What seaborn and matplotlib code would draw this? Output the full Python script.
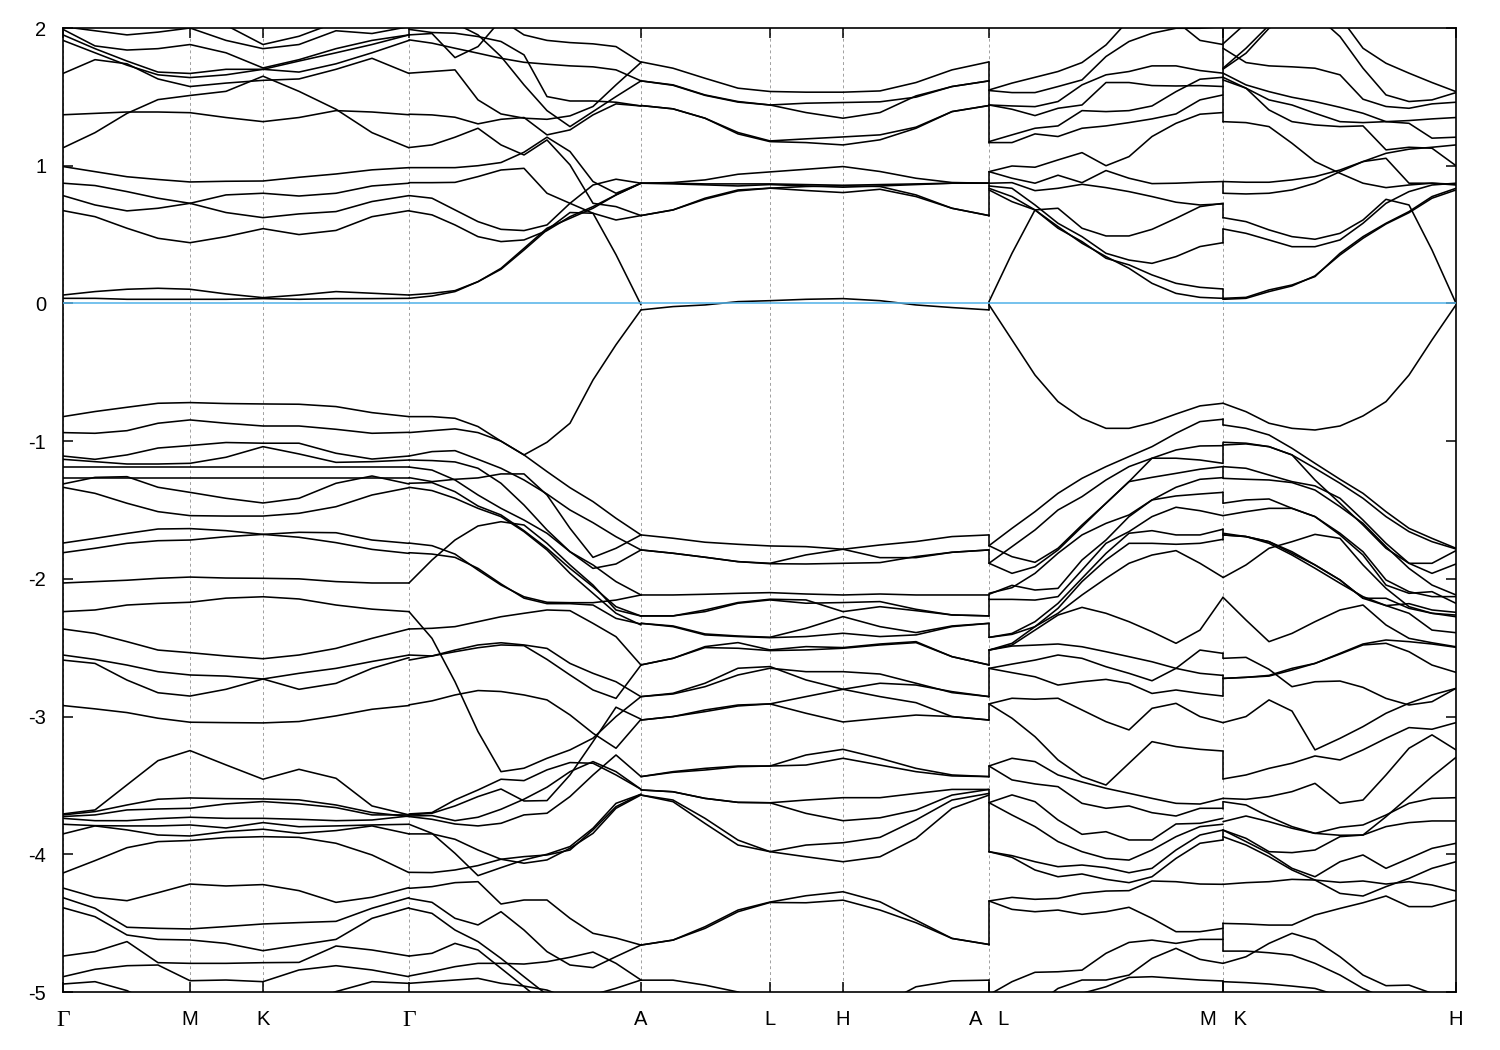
import matplotlib
matplotlib.use("Agg")
import matplotlib.pyplot as plt
import pandas as pd
import seaborn as sns

# k-path sample positions of each section
gamma_m_k_gamma_k = [0, 32, 64, 95, 127, 163, 200, 236, 273, 309, 346]
gamma_a_k = [346, 369, 392, 415, 438, 461, 484, 507, 530, 553, 578]
a_l_h_a_k = [578, 610, 642, 675, 707, 743, 780, 817, 853, 889, 926]
l_m_k = [926, 949, 972, 995, 1019, 1043, 1066, 1089, 1113, 1137, 1160]
k_h_k = [1160, 1183, 1206, 1229, 1252, 1277, 1300, 1323, 1346, 1369, 1393]

tick_k = [0, 127, 200, 346, 578, 707, 780, 926, 1160, 1393]
tick_names = ["Γ", "M", "K", "Γ", "A", "L", "H", "A   L", "M   K", "H"]
energy_ticks = [2, 1, 0, -1, -2, -3, -4, -5]
fermi_level = [0]

gamma_m_k_gamma_e = [
 [2.01,1.98,1.95,1.97,2.0,1.91,1.85,1.88,1.98,1.96,2.01],
 [2.04,2.04,2.04,2.04,2.04,2.02,1.88,1.94,2.04,2.04,2.05],
 [1.99,1.87,1.84,1.85,1.88,1.82,1.71,1.77,1.85,1.91,1.95],
 [1.95,1.85,1.76,1.68,1.67,1.70,1.70,1.76,1.82,1.88,1.95],
 [1.91,1.82,1.73,1.66,1.64,1.66,1.70,1.68,1.74,1.82,1.91],
 [1.67,1.77,1.74,1.63,1.575,1.60,1.62,1.63,1.70,1.78,1.67],
 [1.13,1.24,1.38,1.48,1.51,1.54,1.65,1.54,1.41,1.24,1.13],
 [1.37,1.38,1.39,1.39,1.385,1.35,1.32,1.35,1.40,1.39,1.37],
 [.994,.957,.92,.90,.882,.887,.889,.916,.94,.97,.986],
 [.873,.856,.812,.764,.727,.66,.623,.65,.667,.74,.783],
 [.783,.715,.672,.691,.727,.788,.80,.78,.80,.853,.873],
 [.674,.63,.546,.473,.441,.485,.543,.50,.53,.63,.674],
 [.061,.086,.103,.11,.103,.069,.042,.061,.086,.074,.061],
 [.037,.037,.03,.03,.03,.03,.035,.03,.035,.035,.037],
 [-.822,-.785,-.754,-.725,-.72,-.727,-.73,-.732,-.749,-.793,-.822],
 [-.938,-.943,-.924,-.87,-.846,-.87,-.89,-.89,-.914,-.943,-.936],
 [-1.108,-1.132,-1.10,-1.05,-1.032,-1.01,-1.015,-1.015,-1.088,-1.13,-1.108],
 [-1.132,-1.149,-1.166,-1.166,-1.161,-1.117,-1.04,-1.093,-1.154,-1.149,-1.137],
 [-1.188,-1.188,-1.188,-1.188,-1.188,-1.188,-1.188,-1.188,-1.188,-1.188,-1.188],
 [-1.265,-1.265,-1.265,-1.265,-1.265,-1.265,-1.265,-1.265,-1.265,-1.265,-1.265],
 [-1.311,-1.263,-1.258,-1.335,-1.372,-1.415,-1.449,-1.415,-1.306,-1.253,-1.311],
 [-1.335,-1.379,-1.451,-1.512,-1.541,-1.544,-1.544,-1.524,-1.476,-1.391,-1.338],
 [-1.74,-1.706,-1.67,-1.638,-1.635,-1.65,-1.677,-1.662,-1.665,-1.718,-1.742],
 [-1.81,-1.778,-1.742,-1.723,-1.718,-1.694,-1.677,-1.698,-1.737,-1.786,-1.815],
 [-2.03,-2.02,-2.01,-1.996,-1.987,-1.994,-1.996,-2.0,-2.02,-2.03,-2.03],
 [-2.238,-2.226,-2.19,-2.178,-2.17,-2.14,-2.13,-2.146,-2.19,-2.22,-2.238],
 [-2.364,-2.396,-2.456,-2.517,-2.536,-2.56,-2.58,-2.553,-2.505,-2.432,-2.364],
 [-2.553,-2.585,-2.626,-2.674,-2.698,-2.706,-2.727,-2.686,-2.65,-2.6,-2.553],
 [-2.59,-2.614,-2.735,-2.827,-2.851,-2.802,-2.727,-2.802,-2.759,-2.65,-2.572],
 [-2.92,-2.944,-2.971,-3.012,-3.041,-3.044,-3.046,-3.036,-2.995,-2.947,-2.92],
 [-3.707,-3.678,-3.496,-3.32,-3.247,-3.351,-3.455,-3.383,-3.448,-3.649,-3.714],
 [-3.714,-3.69,-3.642,-3.6,-3.591,-3.596,-3.598,-3.605,-3.642,-3.697,-3.726],
 [-3.726,-3.714,-3.678,-3.671,-3.666,-3.634,-3.617,-3.634,-3.661,-3.714,-3.714],
 [-3.739,-3.756,-3.756,-3.741,-3.731,-3.739,-3.739,-3.746,-3.756,-3.751,-3.722],
 [-3.782,-3.792,-3.794,-3.794,-3.787,-3.809,-3.77,-3.8,-3.794,-3.787,-3.782],
 [-3.852,-3.794,-3.823,-3.86,-3.867,-3.835,-3.818,-3.848,-3.828,-3.794,-3.852],
 [-4.136,-4.046,-3.952,-3.908,-3.9,-3.879,-3.872,-3.877,-3.92,-4.005,-4.133],
 [-4.245,-4.312,-4.337,-4.279,-4.216,-4.23,-4.22,-4.264,-4.349,-4.312,-4.242],
 [-4.315,-4.392,-4.53,-4.538,-4.542,-4.525,-4.506,-4.496,-4.487,-4.392,-4.315],
 [-4.388,-4.453,-4.586,-4.618,-4.622,-4.647,-4.70,-4.659,-4.618,-4.465,-4.388],
 [-4.739,-4.707,-4.634,-4.787,-4.792,-4.792,-4.787,-4.785,-4.666,-4.695,-4.739],
 [-4.889,-4.835,-4.809,-4.804,-4.918,-4.913,-4.925,-4.84,-4.809,-4.84,-4.889],
 [-4.942,-4.925,-4.99,-5.1,-5.1,-5.1,-5.1,-5.1,-4.997,-4.925,-4.937],
]

gamma_a_e = [
 [1.95,1.96,1.785,1.865,2.06,1.95,1.91,1.894,1.885,1.865,1.75],
 [1.99,1.967,1.962,1.938,1.902,1.805,1.502,1.47,1.47,1.461,1.434],
 [1.914,1.89,1.853,1.817,1.78,1.751,1.737,1.725,1.718,1.696,1.616],
 [2.06,2.06,2.035,1.95,1.793,1.587,1.40,1.284,1.393,1.502,1.616],
 [1.672,1.684,1.696,1.478,1.376,1.345,1.337,1.362,1.43,1.587,1.75],
 [1.374,1.369,1.352,1.304,1.337,1.35,1.224,1.26,1.369,1.449,1.434],
 [1.132,1.151,1.207,1.272,1.151,1.078,1.187,1.006,.727,.703,.638],
 [.986,.986,.986,1.0,1.023,1.098,1.207,1.103,.885,.80,.873],
 [.877,.877,.879,.921,.969,.981,.80,.727,.655,.354,-.01],
 [.783,.764,.679,.594,.538,.529,.57,.727,.86,.902,.873],
 [.061,.073,.093,.158,.255,.40,.546,.618,.691,.788,.873],
 [.037,.054,.086,.158,.248,.388,.534,.66,.655,.606,.638],
 [.672,.643,.57,.485,.449,.461,.529,.63,.703,.788,.873],
 [-.822,-.822,-.834,-.894,-1.0,-1.10,-1.008,-.87,-.556,-.30,-.047],
 [-.938,-.924,-.911,-.938,-1.0,-1.10,-1.221,-1.338,-1.439,-1.56,-1.681],
 [-1.108,-1.076,-1.069,-1.132,-1.197,-1.282,-1.384,-1.50,-1.592,-1.694,-1.79],
 [-1.265,-1.294,-1.277,-1.267,-1.238,-1.238,-1.391,-1.633,-1.844,-1.778,-1.681],
 [-1.137,-1.141,-1.151,-1.197,-1.306,-1.464,-1.645,-1.803,-1.924,-1.892,-1.79],
 [-1.188,-1.21,-1.282,-1.391,-1.488,-1.573,-1.669,-1.803,-1.899,-2.02,-2.117],
 [-1.306,-1.301,-1.367,-1.471,-1.536,-1.65,-1.778,-1.924,-2.057,-2.202,-2.27],
 [-1.335,-1.359,-1.415,-1.488,-1.548,-1.657,-1.79,-1.96,-2.105,-2.25,-2.335],
 [-1.74,-1.759,-1.82,-1.936,-2.045,-2.13,-2.17,-2.173,-2.173,-2.154,-2.117],
 [-1.81,-1.82,-1.844,-1.924,-2.037,-2.14,-2.18,-2.18,-2.19,-2.287,-2.328],
 [-2.03,-1.863,-1.718,-1.616,-1.585,-1.609,-1.742,-1.899,-2.045,-2.226,-2.27],
 [-2.364,-2.359,-2.347,-2.311,-2.275,-2.25,-2.226,-2.231,-2.323,-2.42,-2.626],
 [-2.238,-2.432,-2.747,-3.109,-3.40,-3.375,-3.303,-3.242,-3.157,-3.0,-2.855],
 [-2.553,-2.56,-2.517,-2.48,-2.464,-2.48,-2.505,-2.614,-2.686,-2.747,-2.856],
 [-2.59,-2.56,-2.529,-2.5,-2.48,-2.485,-2.585,-2.698,-2.807,-2.868,-2.626],
 [-2.915,-2.886,-2.843,-2.811,-2.818,-2.843,-2.879,-2.988,-3.121,-3.23,-3.02],
 [-3.707,-3.697,-3.605,-3.533,-3.455,-3.465,-3.387,-3.334,-3.339,-3.424,-3.528],
 [-3.714,-3.702,-3.649,-3.581,-3.526,-3.613,-3.61,-3.424,-3.182,-2.932,-3.019],
 [-3.722,-3.719,-3.756,-3.731,-3.673,-3.6,-3.513,-3.4,-3.327,-3.4,-3.528],
 [-3.726,-3.746,-3.78,-3.794,-3.775,-3.714,-3.702,-3.581,-3.424,-3.279,-3.436],
 [-3.782,-3.848,-3.993,-4.155,-4.097,-4.041,-4.0,-3.944,-3.811,-3.63,-3.564],
 [-3.852,-3.852,-3.891,-3.969,-4.036,-4.065,-4.041,-3.956,-3.848,-3.666,-3.569],
 [-4.131,-4.133,-4.114,-4.082,-4.036,-4.017,-4.005,-3.969,-3.823,-3.654,-3.564],
 [-4.247,-4.235,-4.206,-4.199,-4.361,-4.332,-4.332,-4.465,-4.574,-4.608,-4.659],
 [-4.32,-4.349,-4.465,-4.513,-4.417,-4.55,-4.707,-4.804,-4.823,-4.743,-4.659],
 [-4.392,-4.429,-4.55,-4.634,-4.756,-4.889,-5.02,-5.1,-5.1,-5.1,-5.1],
 [-4.739,-4.719,-4.647,-4.695,-4.828,-4.961,-5.1,-5.1,-5.1,-5.1,-5.1],
 [-4.884,-4.852,-4.816,-4.792,-4.792,-4.797,-4.78,-4.748,-4.71,-4.792,-4.913],
 [-4.937,-4.925,-4.913,-4.901,-4.937,-4.957,-4.986,-5.05,-5.1,-5.1,-5.1],
 [-5.1,-5.1,-5.1,-5.1,-5.1,-5.1,-5.1,-5.1,-5.02,-4.973,-4.913],
]

a_l_h_a_e = [
 [1.754,1.708,1.635,1.563,1.539,1.534,1.534,1.543,1.604,1.696,1.754],
 [1.616,1.587,1.514,1.466,1.441,1.454,1.459,1.464,1.498,1.575,1.616],
 [1.616,1.584,1.511,1.462,1.441,1.386,1.345,1.386,1.507,1.575,1.616],
 [1.437,1.413,1.345,1.241,1.18,1.195,1.209,1.224,1.28,1.393,1.437],
 [1.437,1.413,1.345,1.231,1.175,1.168,1.151,1.188,1.272,1.393,1.437],
 [.873,.878,.897,.938,.955,.974,.994,.958,.909,.878,.873],
 [.873,.873,.868,.868,.868,.863,.858,.863,.868,.873,.873],
 [.873,.868,.861,.853,.863,.853,.844,.853,.863,.873,.873],
 [.638,.679,.764,.824,.837,.849,.854,.849,.788,.691,.638],
 [.638,.679,.757,.817,.837,.82,.805,.829,.776,.691,.638],
 [-.047,-.023,-.011,.013,.02,.03,.035,.02,-.011,-.03,-.047],
 [-1.681,-1.705,-1.734,-1.749,-1.761,-1.766,-1.785,-1.754,-1.729,-1.693,-1.681],
 [-1.79,-1.814,-1.843,-1.875,-1.887,-1.826,-1.785,-1.846,-1.846,-1.807,-1.79],
 [-1.79,-1.814,-1.843,-1.875,-1.89,-1.892,-1.887,-1.882,-1.838,-1.807,-1.79],
 [-2.117,-2.117,-2.112,-2.105,-2.1,-2.11,-2.117,-2.11,-2.117,-2.117,-2.117],
 [-2.269,-2.269,-2.226,-2.172,-2.148,-2.153,-2.238,-2.202,-2.231,-2.262,-2.269],
 [-2.269,-2.269,-2.238,-2.177,-2.153,-2.177,-2.172,-2.165,-2.221,-2.262,-2.269],
 [-2.323,-2.342,-2.4,-2.415,-2.424,-2.359,-2.274,-2.347,-2.39,-2.342,-2.323],
 [-2.323,-2.347,-2.407,-2.419,-2.427,-2.419,-2.395,-2.419,-2.407,-2.347,-2.323],
 [-2.625,-2.577,-2.492,-2.463,-2.516,-2.492,-2.499,-2.473,-2.456,-2.565,-2.625],
 [-2.625,-2.577,-2.499,-2.504,-2.521,-2.516,-2.504,-2.48,-2.463,-2.565,-2.625],
 [-2.855,-2.831,-2.758,-2.649,-2.637,-2.734,-2.802,-2.758,-2.771,-2.819,-2.855],
 [-2.855,-2.836,-2.783,-2.698,-2.649,-2.674,-2.674,-2.691,-2.758,-2.826,-2.855],
 [-3.025,-3.0,-2.952,-2.916,-2.908,-2.855,-2.802,-2.855,-2.899,-3.0,-3.025],
 [-3.025,-3.0,-2.964,-2.923,-2.908,-2.976,-3.039,-3.013,-2.989,-3.0,-3.025],
 [-3.436,-3.4,-3.376,-3.359,-3.359,-3.279,-3.238,-3.303,-3.376,-3.424,-3.436],
 [-3.436,-3.405,-3.388,-3.364,-3.359,-3.352,-3.303,-3.352,-3.4,-3.431,-3.436],
 [-3.533,-3.546,-3.594,-3.623,-3.626,-3.606,-3.589,-3.589,-3.558,-3.529,-3.529],
 [-3.533,-3.546,-3.594,-3.623,-3.626,-3.703,-3.756,-3.735,-3.679,-3.57,-3.529],
 [-3.57,-3.606,-3.739,-3.897,-3.981,-3.933,-3.916,-3.877,-3.751,-3.606,-3.558],
 [-3.57,-3.618,-3.776,-3.933,-3.981,-4.018,-4.054,-4.018,-3.885,-3.667,-3.57],
 [-4.659,-4.623,-4.526,-4.405,-4.347,-4.301,-4.272,-4.345,-4.478,-4.611,-4.655],
 [-4.659,-4.623,-4.538,-4.417,-4.35,-4.352,-4.333,-4.405,-4.497,-4.611,-4.655],
 [-4.914,-4.914,-4.95,-5.0,-5.1,-5.1,-5.1,-5.1,-4.962,-4.919,-4.914],
]

l_m_e = [
 [1.55,1.6,1.642,1.684,1.749,1.877,2.06,2.1,2.05,1.91,1.88],
 [1.546,1.531,1.531,1.575,1.623,1.793,1.902,1.962,1.998,1.998,2.01],
 [1.441,1.434,1.429,1.466,1.587,1.66,1.684,1.725,1.725,1.691,1.672],
 [1.441,1.41,1.364,1.417,1.441,1.604,1.604,1.582,1.579,1.582,1.575],
 [1.175,1.224,1.272,1.289,1.40,1.393,1.40,1.434,1.538,1.628,1.642],
 [1.168,1.168,1.231,1.212,1.272,1.289,1.313,1.34,1.376,1.478,1.514],
 [.957,.998,.989,1.042,1.095,1.0,1.066,1.212,1.308,1.374,1.386],
 [.957,.909,.873,.931,.877,.965,.909,.87,.873,.88,.885],
 [.873,.877,.819,.836,.865,.841,.812,.776,.735,.715,.723],
 [.013,.364,.679,.691,.546,.49,.49,.538,.618,.703,.727],
 [.853,.836,.715,.582,.485,.364,.315,.291,.34,.413,.441],
 [.836,.776,.679,.546,.449,.328,.28,.207,.146,.117,.105],
 [.824,.739,.679,.558,.437,.34,.255,.146,.073,.044,.037],
 [-.01,-.265,-.52,-.713,-.834,-.907,-.907,-.866,-.803,-.744,-.725],
 [-1.759,-1.633,-1.512,-1.379,-1.27,-1.185,-1.112,-1.04,-.943,-.858,-.841],
 [-1.759,-1.839,-1.88,-1.778,-1.609,-1.451,-1.294,-1.124,-1.064,-1.035,-1.033],
 [-1.887,-1.766,-1.645,-1.5,-1.403,-1.282,-1.185,-1.124,-1.124,-1.137,-1.161],
 [-1.887,-1.96,-1.912,-1.79,-1.621,-1.451,-1.294,-1.263,-1.234,-1.204,-1.185],
 [-2.105,-2.064,-1.96,-1.814,-1.681,-1.597,-1.536,-1.427,-1.335,-1.277,-1.265],
 [-2.112,-2.047,-2.081,-2.069,-1.863,-1.718,-1.548,-1.427,-1.398,-1.384,-1.372],
 [-2.149,-2.149,-2.154,-2.129,-1.936,-1.742,-1.657,-1.548,-1.48,-1.505,-1.541],
 [-2.425,-2.396,-2.311,-2.178,-1.996,-1.815,-1.669,-1.65,-1.681,-1.681,-1.64],
 [-2.425,-2.403,-2.347,-2.214,-2.02,-1.863,-1.742,-1.742,-1.749,-1.742,-1.713],
 [-2.517,-2.468,-2.347,-2.25,-2.117,-1.996,-1.887,-1.827,-1.795,-1.887,-1.989],
 [-2.517,-2.481,-2.372,-2.263,-2.207,-2.25,-2.311,-2.384,-2.468,-2.372,-2.134],
 [-2.65,-2.619,-2.59,-2.553,-2.577,-2.638,-2.686,-2.74,-2.65,-2.517,-2.541],
 [-2.517,-2.488,-2.481,-2.473,-2.493,-2.529,-2.565,-2.602,-2.65,-2.686,-2.701],
 [-2.65,-2.681,-2.711,-2.771,-2.747,-2.73,-2.759,-2.832,-2.807,-2.832,-2.851],
 [-2.908,-2.867,-2.874,-2.867,-2.952,-3.037,-3.097,-2.94,-2.904,-3.0,-3.044],
 [-2.908,-3.012,-3.146,-3.315,-3.436,-3.497,-3.339,-3.182,-3.218,-3.238,-3.25],
 [-3.359,-3.303,-3.327,-3.424,-3.475,-3.521,-3.557,-3.594,-3.63,-3.635,-3.594],
 [-3.359,-3.46,-3.489,-3.509,-3.63,-3.666,-3.649,-3.698,-3.722,-3.666,-3.666],
 [-3.625,-3.569,-3.618,-3.751,-3.855,-3.836,-3.896,-3.896,-3.78,-3.775,-3.739],
 [-3.625,-3.715,-3.799,-3.908,-3.981,-4.03,-4.042,-3.969,-3.872,-3.799,-3.782],
 [-3.981,-4.01,-4.054,-4.09,-4.078,-4.097,-4.134,-4.102,-3.969,-3.86,-3.824],
 [-3.981,-4.022,-4.114,-4.163,-4.143,-4.182,-4.206,-4.163,-4.03,-3.92,-3.896],
 [-4.339,-4.313,-4.327,-4.32,-4.284,-4.267,-4.264,-4.194,-4.199,-4.216,-4.218],
 [-4.339,-4.4,-4.417,-4.405,-4.436,-4.417,-4.385,-4.465,-4.562,-4.562,-4.538],
 [-5.02,-4.925,-4.857,-4.853,-4.841,-4.719,-4.64,-4.623,-4.647,-4.618,-4.618],
 [-5.1,-5.1,-5.1,-4.974,-4.913,-4.913,-4.877,-4.756,-4.683,-4.763,-4.792],
 [-5.1,-5.1,-5.1,-5.1,-5.01,-4.962,-4.894,-4.889,-4.901,-4.913,-4.92],
]

k_h_e = [
 [1.885,2.035,2.1,2.1,2.1,1.938,1.708,1.514,1.466,1.478,1.531],
 [1.708,1.853,2.02,2.1,2.1,2.08,1.853,1.744,1.672,1.604,1.538],
 [1.701,1.817,1.998,2.1,2.1,2.1,2.1,2.1,2.1,2.1,2.1],
 [1.853,1.749,1.725,1.718,1.708,1.66,1.483,1.43,1.417,1.449,1.461],
 [1.672,1.587,1.538,1.497,1.466,1.424,1.381,1.32,1.308,1.2,1.207],
 [1.642,1.563,1.478,1.441,1.381,1.32,1.313,1.32,1.328,1.34,1.35],
 [1.623,1.563,1.405,1.32,1.296,1.284,1.289,1.115,1.134,1.127,1.0],
 [1.32,1.313,1.284,1.163,1.03,.945,.873,.841,.86,.873,.86],
 [.885,.88,.88,.897,.921,.969,1.03,1.054,.873,.873,.865],
 [.80,.795,.80,.824,.873,.957,1.03,1.09,1.12,1.134,1.151],
 [.623,.594,.534,.485,.466,.509,.606,.756,.715,.388,.001],
 [.541,.509,.461,.412,.412,.461,.582,.727,.812,.86,.873],
 [.037,.044,.098,.134,.195,.364,.485,.582,.667,.776,.836],
 [.03,.037,.086,.127,.2,.352,.473,.577,.659,.764,.824],
 [-.725,-.786,-.87,-.907,-.919,-.89,-.817,-.713,-.52,-.265,-.01],
 [-.882,-.907,-.955,-1.052,-1.161,-1.277,-1.379,-1.512,-1.633,-1.706,-1.778],
 [-1.008,-1.015,-1.04,-1.1,-1.197,-1.306,-1.415,-1.548,-1.657,-1.73,-1.783],
 [-1.028,-1.02,-1.04,-1.1,-1.282,-1.451,-1.609,-1.778,-1.887,-1.887,-1.795],
 [-1.185,-1.197,-1.246,-1.294,-1.325,-1.415,-1.573,-1.742,-1.887,-1.96,-1.892],
 [-1.27,-1.277,-1.282,-1.301,-1.355,-1.476,-1.597,-1.766,-1.924,-2.045,-2.117],
 [-1.451,-1.427,-1.42,-1.488,-1.548,-1.669,-1.803,-2.008,-2.093,-2.129,-2.129],
 [-1.541,-1.512,-1.488,-1.488,-1.548,-1.681,-1.827,-2.045,-2.105,-2.093,-2.178],
 [-1.669,-1.693,-1.73,-1.815,-1.899,-2.008,-2.141,-2.141,-2.214,-2.25,-2.275],
 [-1.681,-1.693,-1.742,-1.827,-1.923,-2.032,-2.129,-2.194,-2.25,-2.372,-2.391],
 [-1.681,-1.693,-1.73,-1.803,-1.899,-2.008,-2.141,-2.194,-2.18,-2.226,-2.243],
 [-1.991,-1.899,-1.778,-1.73,-1.677,-1.706,-1.899,-2.069,-2.202,-2.25,-2.263],
 [-2.134,-2.299,-2.456,-2.396,-2.311,-2.226,-2.19,-2.335,-2.432,-2.464,-2.493],
 [-2.577,-2.57,-2.657,-2.783,-2.747,-2.742,-2.788,-2.868,-2.916,-2.892,-2.795],
 [-2.723,-2.715,-2.706,-2.662,-2.614,-2.541,-2.473,-2.444,-2.456,-2.473,-2.497],
 [-2.723,-2.715,-2.701,-2.65,-2.614,-2.546,-2.48,-2.468,-2.529,-2.626,-2.679],
 [-3.453,-3.424,-3.376,-3.339,-3.286,-3.315,-3.242,-3.158,-3.08,-3.092,-3.044],
 [-3.044,-3.0,-2.879,-2.96,-3.242,-3.158,-3.073,-2.976,-2.903,-2.843,-2.795],
 [-3.594,-3.601,-3.581,-3.545,-3.485,-3.63,-3.606,-3.424,-3.23,-3.133,-3.242],
 [-3.618,-3.642,-3.727,-3.799,-3.848,-3.862,-3.86,-3.727,-3.581,-3.436,-3.296],
 [-3.763,-3.722,-3.763,-3.811,-3.848,-3.804,-3.787,-3.715,-3.63,-3.594,-3.589],
 [-3.824,-3.884,-3.981,-3.988,-3.969,-3.872,-3.86,-3.799,-3.77,-3.758,-3.758],
 [-3.872,-3.933,-4.017,-4.114,-4.187,-4.284,-4.303,-4.235,-4.175,-4.102,-4.054],
 [-3.824,-3.908,-3.993,-4.102,-4.163,-4.054,-4.005,-4.102,-4.03,-3.957,-3.92],
 [-4.218,-4.206,-4.199,-4.182,-4.187,-4.204,-4.194,-4.216,-4.199,-4.223,-4.267],
 [-4.502,-4.506,-4.514,-4.514,-4.441,-4.393,-4.352,-4.303,-4.38,-4.38,-4.332],
 [-4.703,-4.703,-4.715,-4.732,-4.792,-4.877,-4.974,-5.05,-5.1,-5.1,-5.1],
 [-4.792,-4.744,-4.647,-4.574,-4.623,-4.744,-4.877,-4.954,-4.95,-5.01,-5.06],
 [-4.925,-4.932,-4.942,-4.957,-4.974,-5.03,-5.1,-5.1,-5.1,-5.1,-5.1],
]

# energy intervals over which the curves jump at the two path breaks
a_l_jumps = [(1.754, 1.168), (.957, .638), (.013, -.047), (-1.681, -1.759), (-1.79, -1.887),
             (-2.117, -2.149), (-2.149, -2.27), (-2.328, -2.425), (-2.517, -2.626),
             (-2.65, -2.856), (-2.908, -3.025), (-3.359, -3.436), (-3.533, -3.981),
             (-4.339, -4.659), (-4.913, -5.1)]
m_k_jumps = [(2.1, 1.32), (.885, .80), (.723, .623), (.541, .441), (.105, .03),
             (-.841, -.882), (-1.015, -1.161), (-1.185, -1.265), (-1.366, -1.451),
             (-1.64, -1.718), (-2.541, -2.577), (-2.70, -2.851), (-3.25, -3.453),
             (-3.618, -3.671), (-3.824, -3.896), (-4.502, -4.703), (-4.92, -5.1)]
break_k = [926, 1160]

sections = [
    ("gmkg", gamma_m_k_gamma_k, gamma_m_k_gamma_e),
    ("ga", gamma_a_k, gamma_a_e),
    ("alha", a_l_h_a_k, a_l_h_a_e),
    ("lm", l_m_k, l_m_e),
    ("kh", k_h_k, k_h_e),
]

rows = []
for name, ks, bands in sections:
    for i, band in enumerate(bands):
        for k, e in zip(ks, band, strict=True):
            rows.append((f"{name}{i}", k, e))

for name, brk, spans in [("jump_al", break_k[0], a_l_jumps), ("jump_mk", break_k[1], m_k_jumps)]:
    for i, (top, low) in enumerate(spans):
        rows.append((f"{name}{i}", brk, top))
        rows.append((f"{name}{i}", brk, low))

df = pd.DataFrame(rows, columns=["band", "k", "energy"])

sns.set_style("white")
plt.rcParams["font.family"] = ["Liberation Sans", "DejaVu Sans"]
plt.rcParams["axes.unicode_minus"] = False

fig = plt.figure(figsize=(15, 10.5), dpi=100)
ax = fig.add_axes([63 / 1500, 1 - 992 / 1050, (1456 - 63) / 1500, (992 - 28) / 1050])

ax.grid(True, axis="x", color="#a0a0a0", linewidth=0.7, linestyle=(0, (3, 3)), zorder=0)
ax.set_axisbelow(True)

sns.lineplot(data=df, x="k", y="energy", units="band", estimator=None, sort=False,
             color="black", linewidth=1.15, legend=False, ax=ax, zorder=3)
ax.axhline(fermi_level[0], color="#56b4e9", linewidth=1.15, zorder=4)

ax.set_xlim(0, 1393)
ax.set_ylim(-5, 2)
ax.set_xticks(tick_k)
ax.set_xticklabels(tick_names)
ax.set_yticks(energy_ticks)
ax.set_yticklabels([str(v) for v in energy_ticks])
ax.set_xlabel("")
ax.set_ylabel("")
ax.tick_params(axis="both", direction="in", length=7.5, width=1.1, top=True, right=True,
               bottom=True, left=True, labelsize=14.5, colors="black")
ax.tick_params(axis="x", pad=13)
ax.tick_params(axis="y", pad=12)
for label in ax.get_xticklabels():
    if label.get_text() == "Γ":
        label.set_fontfamily("Liberation Serif")
        label.set_fontsize(17)
for side in ax.spines.values():
    side.set_visible(True)
    side.set_color("black")
    side.set_linewidth(1.2)

fig.savefig("out.png", dpi=100)
